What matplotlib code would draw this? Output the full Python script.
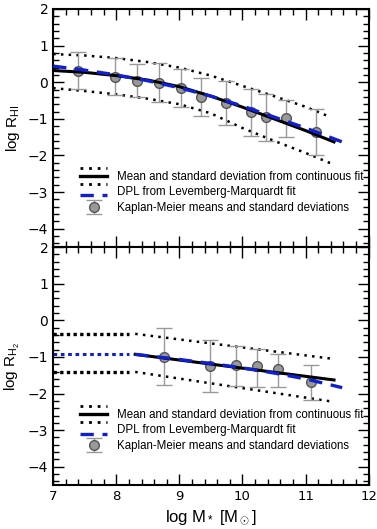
import matplotlib
matplotlib.use('Agg')
import matplotlib.pyplot as plt
from matplotlib.lines import Line2D
from matplotlib.legend_handler import HandlerBase, HandlerErrorbar
from matplotlib.ticker import MultipleLocator

plt.rcParams['mathtext.fontset'] = 'custom'
plt.rcParams['mathtext.rm'] = 'Liberation Sans'
plt.rcParams['mathtext.it'] = 'Liberation Sans:italic'

# ---- top panel: HI ----
hi_km_x = [7.40, 7.98, 8.33, 8.68, 9.03, 9.35, 9.74, 10.13, 10.38, 10.69, 11.17]
hi_km_y = [0.30, 0.15, 0.04, -0.02, -0.16, -0.40, -0.57, -0.81, -0.95, -0.99, -1.35]
hi_km_hi = [0.82, 0.66, 0.50, 0.53, 0.36, 0.11, 0.03, -0.18, -0.31, -0.48, -0.73]
hi_km_lo = [-0.18, -0.34, -0.41, -0.55, -0.67, -0.91, -1.16, -1.46, -1.60, -1.50, -1.98]

hi_fit_x = [7.0, 7.5, 8.0, 8.5, 9.0, 9.5, 10.0, 10.5, 11.0, 11.45]
hi_fit_y = [0.32, 0.27, 0.18, 0.06, -0.12, -0.38, -0.68, -1.00, -1.32, -1.63]
hi_up_x = [7.0, 7.5, 8.0, 8.5, 9.0, 9.5, 10.0, 10.5, 11.0, 11.39]
hi_up_y = [0.77, 0.73, 0.66, 0.55, 0.40, 0.18, -0.10, -0.38, -0.67, -0.95]
hi_lo_x = [7.0, 7.5, 8.0, 8.5, 9.0, 9.5, 10.0, 10.5, 11.0, 11.42]
hi_lo_y = [-0.16, -0.24, -0.33, -0.45, -0.60, -0.85, -1.25, -1.60, -1.93, -2.23]
hi_dpl_x = [7.0, 7.5, 8.0, 8.5, 9.0, 9.5, 10.0, 10.5, 11.0, 11.58]
hi_dpl_y = [0.44, 0.33, 0.20, 0.04, -0.15, -0.38, -0.65, -0.95, -1.25, -1.63]

# ---- bottom panel: H2 ----
h2_km_x = [8.75, 9.49, 9.89, 10.23, 10.57, 11.09]
h2_km_y = [-1.00, -1.26, -1.23, -1.26, -1.34, -1.68]
h2_km_hi = [-0.22, -0.55, -0.70, -0.78, -0.91, -1.21]
h2_km_lo = [-1.77, -1.97, -1.79, -1.81, -1.82, -2.17]

h2_ext_x = [7.0, 8.2]
h2_ext_up = [-0.37, -0.37]
h2_ext_mid = [-0.91, -0.91]
h2_ext_lo = [-1.41, -1.41]

h2_fit_x = [8.3, 11.45]
h2_fit_y = [-0.93, -1.63]
h2_up_x = [8.3, 11.42]
h2_up_y = [-0.37, -1.05]
h2_lo_x = [8.3, 11.42]
h2_lo_y = [-1.41, -2.22]
h2_dpl_x = [8.3, 9.0, 9.5, 10.0, 10.5, 11.0, 11.58]
h2_dpl_y = [-0.93, -1.07, -1.18, -1.30, -1.44, -1.60, -1.84]

labels = ['Mean and standard deviation from continuous fit',
          'DPL from Levemberg-Marquardt fit',
          'Kaplan-Meier means and standard deviations']

dot = (0, (1, 2.1))
blue = '#1020d0'


class HandlerStack(HandlerBase):
    def create_artists(self, legend, orig_handle, xdescent, ydescent,
                       width, height, fontsize, trans):
        arts = []
        x0, x1 = -xdescent, -xdescent + width
        ym = -ydescent + height / 2
        for dy, ls, lw in [(6, dot, 2.0), (0, '-', 2.4), (-6, dot, 2.0)]:
            l = Line2D([x0, x1], [ym + dy, ym + dy], color='k', lw=lw, linestyle=ls)
            l.set_transform(trans)
            arts.append(l)
        return arts


class HandlerLow(HandlerBase):
    def create_artists(self, legend, orig_handle, xdescent, ydescent,
                       width, height, fontsize, trans):
        ym = -ydescent + height / 2 - 3
        l = Line2D([-xdescent, -xdescent + width], [ym, ym], color=blue,
                   lw=2.4, linestyle=(0, (4, 2.6)))
        l.set_transform(trans)
        return [l]


fig, (ax1, ax2) = plt.subplots(2, 1, figsize=(3.77, 5.29), dpi=100, sharex=True)
fig.subplots_adjust(left=0.141, right=0.978, top=0.983, bottom=0.083, hspace=0)


def draw_km(ax, x, y, hi, lo):
    err = [[yy - l for yy, l in zip(y, lo)], [h - yy for yy, h in zip(y, hi)]]
    return ax.errorbar(x, y, yerr=err, fmt='o', color='#999999', ecolor='#999999',
                       mec='#555555', mfc='#999999', ms=7, elinewidth=1,
                       capsize=5.5, capthick=1, zorder=5)


# top
ax1.plot(hi_up_x, hi_up_y, color='k', lw=1.8, linestyle=dot)
ax1.plot(hi_lo_x, hi_lo_y, color='k', lw=1.8, linestyle=dot)
km1 = draw_km(ax1, hi_km_x, hi_km_y, hi_km_hi, hi_km_lo)
ax1.plot(hi_fit_x, hi_fit_y, color='k', lw=2.2, zorder=6)
ax1.plot(hi_dpl_x, hi_dpl_y, color=blue, lw=2.4, linestyle=(0, (4, 2.6)), zorder=7)

# bottom
ax2.plot(h2_ext_x, h2_ext_up, color='k', lw=2.4, linestyle=(0, (1, 1.0)))
ax2.plot(h2_ext_x, h2_ext_lo, color='k', lw=2.4, linestyle=(0, (1, 1.0)))
ax2.plot(h2_ext_x, h2_ext_mid, color=blue, lw=2.2, linestyle=(0, (1.2, 1.2)))
ax2.plot(h2_up_x, h2_up_y, color='k', lw=1.8, linestyle=dot)
ax2.plot(h2_lo_x, h2_lo_y, color='k', lw=1.8, linestyle=dot)
km2 = draw_km(ax2, h2_km_x, h2_km_y, h2_km_hi, h2_km_lo)
ax2.plot(h2_fit_x, h2_fit_y, color='k', lw=2.2, zorder=6)
ax2.plot(h2_dpl_x, h2_dpl_y, color=blue, lw=2.4, linestyle=(0, (4, 2.6)), zorder=7)

for ax, km, lab in [(ax1, km1, r'log R$_{\rm HI}$'), (ax2, km2, r'log R$_{\rm H_2}$')]:
    ax.set_xlim(7, 12)
    ax.set_ylim(-4.5, 2)
    ax.xaxis.set_major_locator(MultipleLocator(1))
    ax.xaxis.set_minor_locator(MultipleLocator(0.2))
    ax.yaxis.set_major_locator(MultipleLocator(1))
    ax.yaxis.set_minor_locator(MultipleLocator(0.2))
    ax.tick_params(which='both', direction='in', top=True, right=True, labelsize=10)
    ax.tick_params(axis='x', labelsize=9.5)
    ax.tick_params(which='major', length=8, width=1)
    ax.tick_params(which='minor', length=4.5, width=1)
    for s in ax.spines.values():
        s.set_linewidth(1.5)
    ax.set_ylabel(lab, fontsize=11, family='Liberation Sans')
    ax.yaxis.set_label_coords(-0.10, 0.5)
    h1 = Line2D([], [], color='k')
    h2 = Line2D([], [], color=blue)
    ax.legend([h1, h2, km], labels, loc='lower left',
              bbox_to_anchor=(0.079, 0.13), frameon=False,
              handler_map={h1: HandlerStack(), h2: HandlerLow(),
                           km: HandlerErrorbar(xerr_size=0.3, yerr_size=0.6)},
              prop={'family': 'Liberation Sans', 'size': 8.3},
              handlelength=2.3, handletextpad=0.9, labelspacing=0.3,
              borderpad=0.2, borderaxespad=0)

ax2.set_xlabel(r'log M$_*$ [M$_\odot$]', fontsize=12, family='Liberation Sans')

fig.savefig('out.png', dpi=100)
